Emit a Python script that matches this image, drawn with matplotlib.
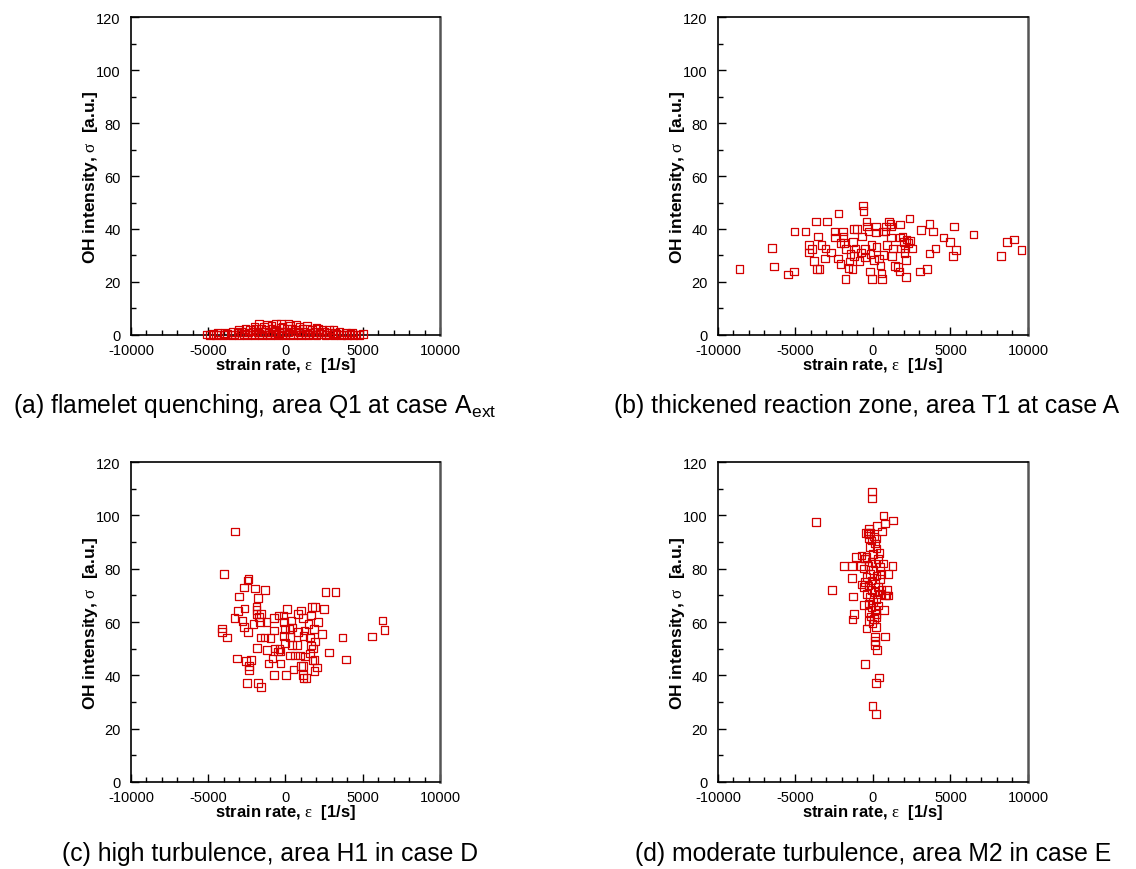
import matplotlib
matplotlib.use('Agg')
import matplotlib.pyplot as plt
from matplotlib.ticker import MultipleLocator

plt.rcParams['font.family'] = ['Liberation Sans', 'DejaVu Sans']
plt.rcParams['mathtext.fontset'] = 'custom'
plt.rcParams['mathtext.rm'] = 'Liberation Serif'
plt.rcParams['mathtext.sf'] = 'Liberation Sans'
plt.rcParams['axes.unicode_minus'] = False

# (a) flamelet quenching, area Q1 at case A_ext
a_x = [-5100, -4900, -4700, -4500, -4300, -4000, -3800, -3500, -3300, -3000, -2700, -2500,
       -2200, -2000, -1700, -1500, -1200, -1000, -700, -500, -200, 0, 300, 500, 800, 1000,
       1300, 1500, 1800, 2000, 2300, 2600, 2800, 3100, 3300, 3600, 3800, 4000, 4200, 4400,
       4600, 4800, 5000,
       -4400, -3900, -3400, -3100, -2800, -2400, -2100, -1800, -1400, -1100, -800, -400,
       -100, 200, 600, 900, 1200, 1600, 1900, 2200, 2500, 2900, 3200, 3500, 3900, 4300,
       -3000, -2600, -2300, -1900, -1600, -1300, -900, -600, -300, 100, 400, 700, 1100,
       1400, 1700, 2100, 2400, 2800, 3100,
       -2000, -1400, -900, -200, 300, 900, 1400, 2000,
       -1700, -1200, -600, -300, 200, 700]
a_y = [0.2, 0.1, 0.3, 0.0, 0.2, 0.1, 0.3, 0.0, 0.2, 0.1, 0.3, 0.0,
       0.2, 0.1, 0.3, 0.0, 0.2, 0.1, 0.3, 0.0, 0.2, 0.1, 0.3, 0.0, 0.2, 0.1,
       0.3, 0.0, 0.2, 0.1, 0.3, 0.0, 0.2, 0.1, 0.3, 0.0, 0.2, 0.1, 0.3, 0.0,
       0.2, 0.1, 0.3,
       1.0, 0.8, 1.2, 0.9, 1.1, 1.0, 1.3, 0.9, 1.1, 1.0, 1.2, 0.8,
       1.1, 1.0, 1.3, 0.9, 1.2, 1.0, 1.1, 0.9, 1.2, 1.0, 0.8, 1.1, 0.9, 1.0,
       2.0, 2.3, 1.9, 2.2, 2.5, 2.1, 2.4, 2.0, 2.6, 2.2, 2.4, 2.1, 2.5,
       2.3, 2.0, 2.2, 1.9, 2.1, 1.8,
       3.2, 3.0, 3.5, 3.1, 3.4, 3.0, 3.3, 2.9,
       4.2, 4.0, 4.3, 4.1, 4.2, 4.0]

# (b) thickened reaction zone, area T1 at case A
b_x = [-8600, -6500, -6400, -5500, -5100, -5060, -4350, -3680, -2960, -2230, -630, -600,
       2360, 3640, 5210, 6490, 3100, 3870, 4560, 4970, 5360, 5170, 4030, 3640, 3030, 3480,
       8270, 8640, 9110, 9590,
       -4130, -4130, -3920, -3790, -3610, -3440, -3550, -3330, -3050, -3090, -2710, -2490,
       -2430, -2250, -2100, -2100, -1930, -1890, -1850, -1780, -1740, -1570, -1520, -1460,
       -1330, -1300, -1240, -1220, -1130, -1020, -860, -770, -700, -530, -500, -420, -380,
       -300, -210, -150, -100, -50, 50, 210, 210, 230, 380, 490, 550, 590, 660, 680, 800,
       850, 920, 1050, 1130, 1180, 1180, 1240, 1280, 1410, 1610, 1700, 1740, 1740, 1780,
       1910, 2000, 2040, 2080, 2120, 2120, 2170, 2300, 2380, 2510]
b_y = [24.9, 32.8, 25.9, 22.8, 23.9, 39.0, 39.0, 42.9, 42.9, 45.9, 48.9, 46.9,
       43.9, 41.9, 41.0, 37.9, 39.7, 39.0, 36.8, 35.0, 32.0, 29.9, 32.7, 30.8, 23.9, 24.9,
       29.9, 35.0, 36.0, 32.0,
       34.0, 31.2, 32.5, 28.0, 24.9, 24.9, 37.1, 34.0, 32.7, 28.9, 31.2, 39.0,
       36.8, 28.9, 26.8, 34.7, 39.0, 36.9, 34.7, 21.1, 32.5, 25.2, 27.7, 30.6,
       24.9, 35.0, 40.1, 29.9, 32.7, 40.0, 28.0, 31.2, 37.2, 29.3, 32.5, 42.9, 40.9,
       39.0, 23.9, 30.6, 34.0, 21.1, 28.4, 40.9, 38.7, 33.2, 28.9, 26.2, 23.2, 21.1, 39.0,
       30.3, 39.0, 40.9, 34.0, 42.9, 41.9, 36.8, 40.9, 29.9, 32.7, 26.0, 25.6, 24.0, 41.7,
       36.8, 32.7, 37.2, 35.0, 31.0, 32.7, 22.0, 28.4, 36.0, 34.7, 35.6, 32.7]

# (c) high turbulence, area H1 in case D
c_x = [-3250, -3960, -2470, -2390, -2690, -1960, -1330, -3010, -1780, -3090, -2640, -3310,
       -2770, -2690, -4110, -4110, -3790, -2430, -1870, -1870, -1870, -1720, -1600, -1650,
       -2080, -1220, -1610, -1370, -1830, -1180, -3120, -2560, -2250, -2360, -2360, -2510,
       -1780, -1570, -1090, -830, -730, -310, 30, 510, -980, -750, -750, -440, -140, 80,
       -80, -20, -100, -50, -380, -310, 340, 440, 250, 290, 420, 730, 290, 620, 940, 830,
       1020, 830, 1150, 1170, 1220, 1500, 1590, 1650, 1700, 1930, 1850, 2100, 2380, 2510,
       2580, 3250, 3680, 3920, 2820, 1670, 1800, 1900, 1590, 1250, 1760, 1870, 1150, 1000,
       1150, 1170, 1370, 1890, 2040, 5620, 6270, 6420, -700, -500]
c_y = [93.9, 78.0, 75.6, 76.2, 73.0, 72.5, 72.0, 69.5, 69.1, 64.2, 65.1, 61.6,
       60.3, 58.1, 57.5, 56.2, 54.2, 56.2, 65.8, 64.4, 63.1, 61.8, 63.1, 59.9,
       59.3, 59.9, 54.2, 54.2, 50.3, 49.5, 46.3, 45.3, 45.7, 43.6, 42.0, 37.1,
       37.1, 35.6, 44.4, 46.3, 40.2, 44.4, 40.2, 42.2, 54.0, 61.4, 56.8, 62.4, 62.4, 64.9,
       59.9, 57.4, 54.7, 52.2, 49.9, 49.0, 60.5, 58.0, 57.4, 54.3, 51.4, 51.4, 47.4, 47.4, 47.4, 56.2,
       64.3, 63.0, 61.4, 54.7, 56.8, 59.3, 54.2, 62.4, 65.6, 65.6, 57.4, 59.9, 55.6, 64.9,
       71.2, 71.2, 54.2, 45.9, 48.6, 51.2, 50.0, 52.7, 48.2, 47.0, 45.5, 45.8, 43.6, 43.6,
       40.1, 38.9, 38.9, 41.7, 43.0, 54.5, 60.5, 57.0, 50.0, 49.0]

# (d) moderate turbulence, area M2 in case E
d_x = [-45, -45, -3660, 670, 1310, 770, 280, -260, 600, -320,
       -1100, -520, 410, -1850, -1340, -770, 1250, 970, -1340, -2630, -730, 920, 770, 990,
       -1270, -580, 710, -1210, -1310, -410, 210, 760, 150, 150, 150, 260, -520, 390, 210,
       -20, 210,
       -300, -90, 130, -190, 240, 20, -410, 340, -90, 130, -300, 450, 20, -190, 240, -410,
       450, -90, 130, -300, 340, -90, 130, -410, 450, -190, 240, 20, -300, 340, -90, 130,
       -300, 240, -150, 60, -240, -20, 240, 560, -620, -520, 560, -620, 670, -730,
       -450, -300, -150, 60, 240, -520, 840]
d_y = [109.0, 106.3, 97.5, 99.9, 98.0, 96.9, 95.9, 95.0, 94.0, 93.4,
       84.4, 83.8, 85.9, 81.0, 81.0, 81.0, 81.0, 78.1, 76.6, 72.1, 74.1, 72.1, 70.0, 70.0,
       69.6, 66.3, 64.6, 63.1, 61.0, 57.5, 58.1, 54.6, 54.6, 52.9, 51.3, 49.4, 44.2, 39.2, 37.2,
       28.4, 25.4,
       91.3, 90.6, 89.4, 88.1, 87.5, 85.6, 84.4, 83.7, 82.5, 81.9, 80.9, 80.6, 79.4, 78.1, 77.5, 76.9,
       76.2, 75.6, 74.4, 73.7, 73.1, 71.9, 71.2, 70.6, 70.4, 69.4, 68.7, 67.5, 66.9, 66.2, 65.4, 64.4,
       63.7, 63.1, 62.1, 61.2, 60.4, 59.4, 61.9, 71.9, 73.1, 75.0, 78.1, 80.0, 81.9, 85.0,
       93.4, 92.9, 93.4, 92.1, 91.3, 83.8, 70.0]

captions = ['(a) flamelet quenching, area Q1 at case A$_{\\mathsf{ext}}$',
            '(b) thickened reaction zone, area T1 at case A',
            '(c) high turbulence, area H1 in case D',
            '(d) moderate turbulence, area M2 in case E']

fig = plt.figure(figsize=(11.36, 8.7), dpi=100)

axes_pos = [[0.1153, 0.6138, 0.2720, 0.3655],
            [0.6320, 0.6138, 0.2729, 0.3655],
            [0.1153, 0.1000, 0.2720, 0.3678],
            [0.6320, 0.1000, 0.2729, 0.3678]]
caption_pos = [(0.224, 0.533), (0.763, 0.533), (0.238, 0.018), (0.769, 0.018)]
data = [(a_x, a_y), (b_x, b_y), (c_x, c_y), (d_x, d_y)]

for pos, (xs, ys), cap, cpos in zip(axes_pos, data, captions, caption_pos):
    ax = fig.add_axes(pos)
    ax.scatter(xs, ys, marker='s', s=30, facecolors='none', edgecolors='#d40000',
               linewidths=0.9, clip_on=False, zorder=3)
    ax.set_xlim(-10000, 10000)
    ax.set_ylim(0, 120)
    ax.xaxis.set_major_locator(MultipleLocator(5000))
    ax.xaxis.set_minor_locator(MultipleLocator(1000))
    ax.yaxis.set_major_locator(MultipleLocator(20))
    ax.yaxis.set_minor_locator(MultipleLocator(10))
    ax.tick_params(which='both', direction='in', top=False, right=False, labelsize=10.5,
                   width=1.0)
    ax.tick_params(axis='x', pad=5.5)
    ax.tick_params(axis='y', pad=7.5)
    ax.tick_params(which='major', length=6)
    ax.tick_params(which='minor', length=3.5)
    for side in ['left', 'bottom', 'top']:
        ax.spines[side].set_linewidth(1.2)
    ax.spines['right'].set_linewidth(1.8)
    ax.spines['right'].set_color('#555555')
    ax.set_xlabel('strain rate, $\\mathrm{\\varepsilon}$  [1/s]', fontsize=12,
                  fontweight='bold', labelpad=-1.5)
    ax.set_ylabel('OH intensity, $\\mathrm{\\sigma}$  [a.u.]', fontsize=12.5,
                  fontweight='bold', labelpad=-3)
    fig.text(cpos[0], cpos[1], cap, fontsize=17.8, ha='center', va='center')

plt.savefig('out.png', dpi=100)
